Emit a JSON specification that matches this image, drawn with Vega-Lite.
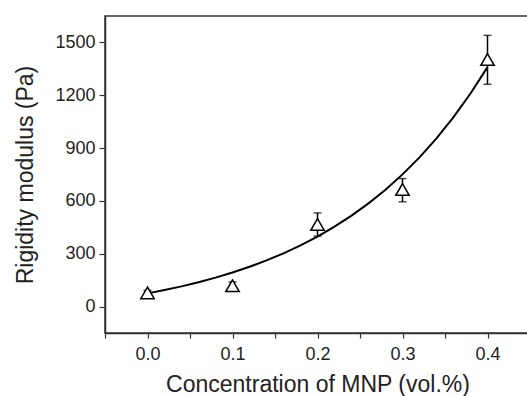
{
  "$schema": "https://vega.github.io/schema/vega-lite/v6.json",
  "autosize": "none",
  "width": 425,
  "height": 317,
  "padding": {"left": 105, "top": 16, "right": 0, "bottom": 63},
  "background": "white",
  "config": {
    "view": {"stroke": "#333", "strokeWidth": 1.5},
    "font": "Liberation Sans",
    "axis": {
      "domainColor": "#333", "domainWidth": 1.5, "tickColor": "#333", "tickWidth": 1.2,
      "labelColor": "#222", "titleColor": "#222", "labelFont": "Liberation Sans", "titleFont": "Liberation Sans",
      "titleFontWeight": "normal", "grid": false
    }
  },
  "datasets": {
    "pts": [
      {"c": 0.0, "g": 78, "lo": 62, "hi": 92},
      {"c": 0.1, "g": 118, "lo": 98, "hi": 140},
      {"c": 0.2, "g": 466, "lo": 400, "hi": 532},
      {"c": 0.3, "g": 665, "lo": 595, "hi": 727},
      {"c": 0.4, "g": 1403, "lo": 1262, "hi": 1540}
    ],
    "fit": [
      {"c": 0.0, "g": 75}, {"c": 0.02, "g": 93.8}, {"c": 0.04, "g": 114.8}, {"c": 0.06, "g": 138.2},
      {"c": 0.08, "g": 164.3}, {"c": 0.10, "g": 193.4}, {"c": 0.12, "g": 225.9}, {"c": 0.14, "g": 262.1},
      {"c": 0.16, "g": 302.5}, {"c": 0.18, "g": 347.5}, {"c": 0.20, "g": 397.8}, {"c": 0.22, "g": 453.8},
      {"c": 0.24, "g": 516.3}, {"c": 0.26, "g": 586.1}, {"c": 0.28, "g": 663.9}, {"c": 0.30, "g": 750.6},
      {"c": 0.32, "g": 847.4}, {"c": 0.34, "g": 955.3}, {"c": 0.36, "g": 1075.7}, {"c": 0.38, "g": 1210.0},
      {"c": 0.40, "g": 1359.8}
    ]
  },
  "layer": [
    {
      "data": {"name": "fit"},
      "mark": {"type": "line", "color": "black", "strokeWidth": 2},
      "encoding": {
        "x": {"field": "c", "type": "quantitative", "scale": {"domain": [-0.05, 0.45], "nice": false, "zero": false},
          "axis": {"title": "Concentration of MNP (vol.%)", "values": [-0.05, 0, 0.05, 0.1, 0.15, 0.2, 0.25, 0.3, 0.35, 0.4],
            "labelExpr": "abs(datum.value*10 - round(datum.value*10)) < 0.001 ? format(datum.value, '.1f') : ''",
            "tickSize": 5, "labelPadding": 7, "labelFontSize": 18, "titleFontSize": 23, "titlePadding": 10, "labelFlush": false, "labelOverlap": false}},
        "y": {"field": "g", "type": "quantitative", "scale": {"domain": [-150, 1650], "nice": false, "zero": false},
          "axis": {"title": "Rigidity modulus (Pa)", "values": [0, 150, 300, 450, 600, 750, 900, 1050, 1200, 1350, 1500],
            "labelExpr": "datum.value == 0 || datum.value == 300 || datum.value == 600 || datum.value == 900 || datum.value == 1200 || datum.value == 1500 ? datum.label : ''",
            "format": "d",
            "tickSize": 6, "labelPadding": 4, "labelFontSize": 18, "titleFontSize": 23, "titlePadding": 17, "labelFlush": false, "labelOverlap": false}}
      }
    },
    {
      "data": {"name": "pts"},
      "mark": {"type": "rule", "color": "black", "strokeWidth": 1.5},
      "encoding": {
        "x": {"field": "c", "type": "quantitative"},
        "y": {"field": "lo", "type": "quantitative"},
        "y2": {"field": "hi"}
      }
    },
    {
      "data": {"name": "pts"},
      "mark": {"type": "tick", "orient": "horizontal", "color": "black", "size": 8, "thickness": 1.5},
      "encoding": {
        "x": {"field": "c", "type": "quantitative"},
        "y": {"field": "lo", "type": "quantitative"}
      }
    },
    {
      "data": {"name": "pts"},
      "mark": {"type": "tick", "orient": "horizontal", "color": "black", "size": 8, "thickness": 1.5},
      "encoding": {
        "x": {"field": "c", "type": "quantitative"},
        "y": {"field": "hi", "type": "quantitative"}
      }
    },
    {
      "data": {"name": "pts"},
      "mark": {"type": "point", "shape": "triangle-up", "filled": true, "fill": "white", "stroke": "black", "strokeWidth": 1.5, "size": 180, "opacity": 1},
      "encoding": {
        "x": {"field": "c", "type": "quantitative"},
        "y": {"field": "g", "type": "quantitative"}
      }
    }
  ]
}
